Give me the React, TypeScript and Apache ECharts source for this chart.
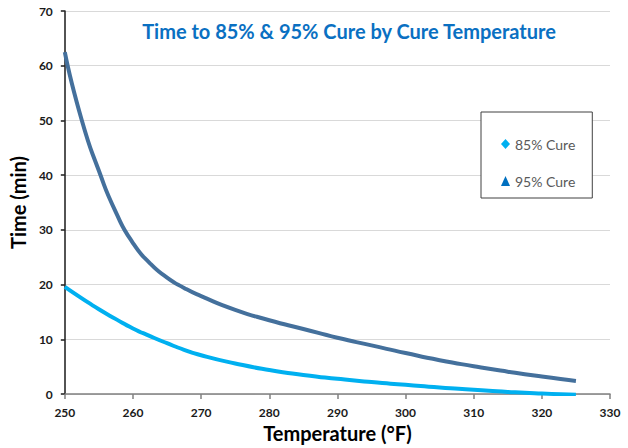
import React, { useEffect, useRef } from "react";
import * as echarts from "echarts";

const temps = [250, 252.5, 255, 257.5, 260, 262.5, 265, 267.5, 270, 275, 280, 285, 290, 295, 300, 305, 310, 315, 320, 325];
const cure85 = [19.6, 17.5, 15.5, 13.7, 12.0, 10.6, 9.3, 8.1, 7.1, 5.6, 4.4, 3.5, 2.8, 2.2, 1.7, 1.2, 0.8, 0.4, 0.1, -0.1];
const cure95 = [62.5, 50.0, 40.8, 33.2, 27.6, 23.9, 21.3, 19.4, 17.9, 15.4, 13.5, 11.9, 10.3, 8.9, 7.5, 6.2, 5.1, 4.1, 3.2, 2.4];
const seriesNames = ["85% Cure", "95% Cure"];
const titleText = "Time to 85% & 95% Cure by Cure Temperature";
const xName = "Temperature (°F)";
const yName = "Time (min)";

const FONT = "Lato, 'Open Sans', sans-serif";

export default function App() {
  const ref = useRef<HTMLDivElement>(null);
  useEffect(() => {
    if (!ref.current) return;
    const chart = echarts.init(ref.current, undefined, { renderer: "svg" });
    chart.setOption({
      animation: false,
      backgroundColor: "#ffffff",
      textStyle: { fontFamily: FONT },
      title: {
        text: titleText,
        left: 344,
        top: 16,
        textAlign: "center",
        textStyle: { color: "#0a70c2", fontSize: 20, fontWeight: "bold", fontFamily: FONT },
      },
      legend: {
        orient: "vertical",
        left: 481,
        top: 112,
        backgroundColor: "#ffffff",
        borderColor: "#404040",
        borderWidth: 1,
        borderRadius: 0,
        padding: [25, 17, 10, 20],
        itemWidth: 9,
        itemHeight: 10,
        itemGap: 23,
        textStyle: { color: "#595959", fontSize: 14, lineHeight: 14, fontFamily: FONT },
        data: [
          { name: seriesNames[0], icon: "diamond", itemStyle: { color: "#00b0f0" } },
          { name: seriesNames[1], icon: "triangle", itemStyle: { color: "#0070c0" } },
        ],
      },
      grid: { left: 64.5, right: 18, top: 11, bottom: 52, containLabel: false },
      xAxis: {
        type: "value",
        min: 250,
        max: 330,
        interval: 10,
        name: xName,
        nameLocation: "middle",
        nameGap: 27,
        nameTextStyle: { color: "#000000", fontSize: 20, fontWeight: "bold", fontFamily: FONT },
        axisLine: { lineStyle: { color: "#808080", width: 1.5 } },
        axisTick: { show: true, length: 5, lineStyle: { color: "#808080", width: 1.5 } },
        axisLabel: { color: "#1a1a1a", fontSize: 12, fontWeight: "bold", margin: 12, fontFamily: FONT },
        splitLine: { show: false },
      },
      yAxis: {
        type: "value",
        min: 0,
        max: 70,
        interval: 10,
        name: yName,
        nameLocation: "middle",
        nameGap: 28,
        nameTextStyle: { color: "#000000", fontSize: 20, fontWeight: "bold", fontFamily: FONT },
        axisLine: { show: true, lineStyle: { color: "#1a1a1a", width: 1.5 } },
        axisTick: { show: true, length: 4, lineStyle: { color: "#1a1a1a", width: 1.5 } },
        axisLabel: { color: "#1a1a1a", fontSize: 12, fontWeight: "bold", margin: 12, fontFamily: FONT },
        splitLine: { lineStyle: { color: "#d9d9d9", width: 1 } },
      },
      series: [
        {
          name: seriesNames[0],
          type: "line",
          smooth: 0.6,
          showSymbol: false,
          symbol: "none",
          lineStyle: { color: "#00b0f0", width: 4 },
          itemStyle: { color: "#00b0f0" },
          data: temps.map((t, i) => [t, cure85[i]]),
          z: 3,
        },
        {
          name: seriesNames[1],
          type: "line",
          smooth: 0.6,
          showSymbol: false,
          symbol: "none",
          lineStyle: { color: "#44709c", width: 4 },
          itemStyle: { color: "#44709c" },
          data: temps.map((t, i) => [t, cure95[i]]),
          z: 2,
        },
      ],
    });
    return () => chart.dispose();
  }, []);
  return (
    <div
      ref={ref}
      style={{ position: "fixed", left: 0, top: 0, width: 628, height: 448 }}
    />
  );
}
